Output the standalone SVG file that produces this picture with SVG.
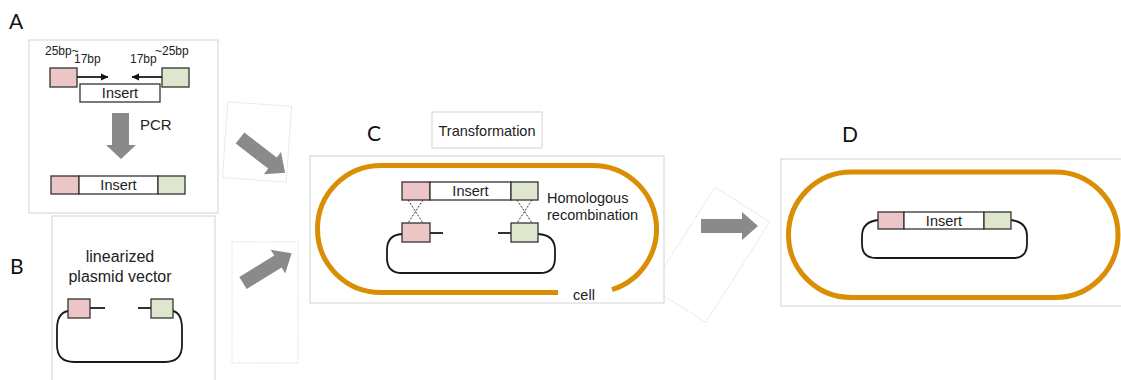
<svg xmlns="http://www.w3.org/2000/svg" width="1121" height="380" viewBox="0 0 1121 380">
  <style>
    .frame { fill: #ffffff; stroke: #d2d2d2; stroke-width: 1; }
    .ghost { fill: #ffffff; stroke: #d6d6d6; stroke-width: 0.8; stroke-dasharray: 1.5 1; }
    .seg { stroke: #333333; stroke-width: 1.3; }
    .pink { fill: #ecc6c6; }
    .green { fill: #dee7cd; }
    .blank { fill: #ffffff; }
    .dna { fill: none; stroke: #1a1a1a; stroke-width: 1.8; }
    .tail { stroke: #1a1a1a; stroke-width: 1.8; }
    .cross { stroke: #333333; stroke-width: 1; stroke-dasharray: 2 1.5; }
    .cell { fill: none; stroke: #d98e04; stroke-width: 5; }
    .fat { fill: #8a8a8a; }
    .lbl { font-family: "Lato", "Liberation Sans", sans-serif; font-size: 21px; fill: #111111; }
    .t { font-family: "Liberation Sans", Arial, sans-serif; fill: #222222; }
    .s12 { font-size: 12px; }
    .s145 { font-size: 14.5px; }
    .s15 { font-size: 15px; }
    .s16 { font-size: 16px; }
  </style>
  <defs>
    <path id="fat-arrow" d="M0,-7 H41 V-14 L57,0 L41,14 V7 H0 Z"/>
    <marker id="head" markerWidth="8" markerHeight="8" refX="7" refY="4" orient="auto" markerUnits="userSpaceOnUse">
      <path d="M0,0.5 L7.5,4 L0,7.5 Z" fill="#111111"/>
    </marker>
  </defs>

  <rect width="1121" height="380" fill="#ffffff"/>

  <!-- backing cards behind the step arrows -->
  <rect class="ghost" x="-32" y="-38" width="64" height="76" transform="translate(257,142) rotate(4)"/>
  <rect class="ghost" x="232" y="242" width="66" height="121"/>
  <rect class="ghost" x="-32.5" y="-59.5" width="65" height="119" transform="translate(710.4,254.7) rotate(32.5)"/>

  <!-- A: insert amplified with homology arms -->
  <g id="panel-a">
    <text class="lbl" x="9" y="29">A</text>
    <rect class="frame" x="29" y="40" width="189" height="173"/>
    <text class="t s12" x="45" y="55">25bp~</text>
    <text class="t s12" x="74" y="63">17bp</text>
    <text class="t s12" x="130" y="63">17bp</text>
    <text class="t s12" x="155" y="55">~25bp</text>
    <rect class="seg pink" x="50" y="68" width="27" height="19"/>
    <rect class="seg green" x="162" y="68" width="27" height="19"/>
    <line class="tail" x1="77" y1="77" x2="108" y2="77" marker-end="url(#head)"/>
    <line class="tail" x1="162" y1="77" x2="132" y2="77" marker-end="url(#head)"/>
    <rect class="seg blank" x="80" y="84" width="80" height="18"/>
    <text class="t s145" x="120" y="98" text-anchor="middle">Insert</text>
    <polygon class="fat" points="112,113 129,113 129,145 136,145 121,159 106,145 112,145"/>
    <text class="t s15" x="140" y="130">PCR</text>
    <rect class="seg pink" x="51" y="176" width="28" height="18"/>
    <rect class="seg blank" x="79" y="176" width="79" height="18"/>
    <rect class="seg green" x="158" y="176" width="27" height="18"/>
    <text class="t s145" x="118.5" y="190" text-anchor="middle">Insert</text>
  </g>

  <!-- B: linearized vector -->
  <g id="panel-b">
    <text class="lbl" x="10" y="274">B</text>
    <rect class="frame" x="52" y="216" width="163" height="170"/>
    <text class="t s16" x="120" y="262" text-anchor="middle">linearized</text>
    <text class="t s16" x="120" y="282" text-anchor="middle">plasmid vector</text>
    <path class="dna" d="M68,311 Q57,313 57,329 V345 Q57,362 74,362 H165 Q182,362 182,345 V329 Q182,313 173,311"/>
    <line class="tail" x1="90" y1="308" x2="105" y2="308"/>
    <line class="tail" x1="138" y1="308" x2="151" y2="308"/>
    <rect class="seg pink" x="68" y="299" width="22" height="19"/>
    <rect class="seg green" x="151" y="299" width="22" height="19"/>
  </g>

  <!-- C: recombination inside the cell -->
  <g id="panel-c">
    <text class="lbl" x="367" y="141">C</text>
    <rect class="frame" x="432" y="112" width="110" height="36"/>
    <text class="t s145" x="487" y="136" text-anchor="middle">Transformation</text>
    <rect class="frame" x="310" y="156" width="354" height="147"/>
    <path class="cell" d="M558,292.5 H381 A63.5,63.5 0 0 1 381,165.5 H593 A63.5,63.5 0 0 1 612,289.6"/>
    <text class="t s145" x="584" y="300" text-anchor="middle">cell</text>
    <rect class="seg pink" x="402" y="182" width="28" height="18"/>
    <rect class="seg blank" x="430" y="182" width="81" height="18"/>
    <rect class="seg green" x="511" y="182" width="27" height="18"/>
    <text class="t s145" x="470.5" y="196" text-anchor="middle">Insert</text>
    <line class="cross" x1="408" y1="200" x2="423" y2="223"/>
    <line class="cross" x1="423" y1="200" x2="408" y2="223"/>
    <line class="cross" x1="517" y1="200" x2="532" y2="223"/>
    <line class="cross" x1="532" y1="200" x2="517" y2="223"/>
    <path class="dna" d="M402,234 Q387,235 387,250 V258 Q387,273 402,273 H540 Q555,273 555,258 V250 Q555,235 538,234"/>
    <line class="tail" x1="430" y1="233" x2="443" y2="233"/>
    <line class="tail" x1="498" y1="233" x2="511" y2="233"/>
    <rect class="seg pink" x="402" y="223" width="28" height="19"/>
    <rect class="seg green" x="511" y="223" width="27" height="19"/>
    <text class="t s145" x="547" y="203">Homologous</text>
    <text class="t s145" x="547" y="220">recombination</text>
  </g>

  <!-- D: circularized recombinant plasmid -->
  <g id="panel-d">
    <text class="lbl" x="842" y="142">D</text>
    <rect class="frame" x="781" y="159" width="350" height="147"/>
    <rect class="cell" x="788.5" y="172" width="329.5" height="125.5" rx="62.75" ry="62.75"/>
    <path class="dna" d="M878,220 Q862,222 862,236 V244 Q862,258 876,258 H1013 Q1027,258 1027,244 V236 Q1027,222 1011,220"/>
    <rect class="seg pink" x="878" y="212" width="26" height="17"/>
    <rect class="seg blank" x="904" y="212" width="80" height="17"/>
    <rect class="seg green" x="984" y="212" width="27" height="17"/>
    <text class="t s145" x="944" y="226" text-anchor="middle">Insert</text>
  </g>

  <!-- step arrows between panels -->
  <g id="connectors">
    <use href="#fat-arrow" class="fat" transform="translate(240,138) rotate(37.7)"/>
    <use href="#fat-arrow" class="fat" transform="translate(243,283) rotate(-31.5)"/>
    <use href="#fat-arrow" class="fat" transform="translate(701,226)"/>
  </g>
</svg>
